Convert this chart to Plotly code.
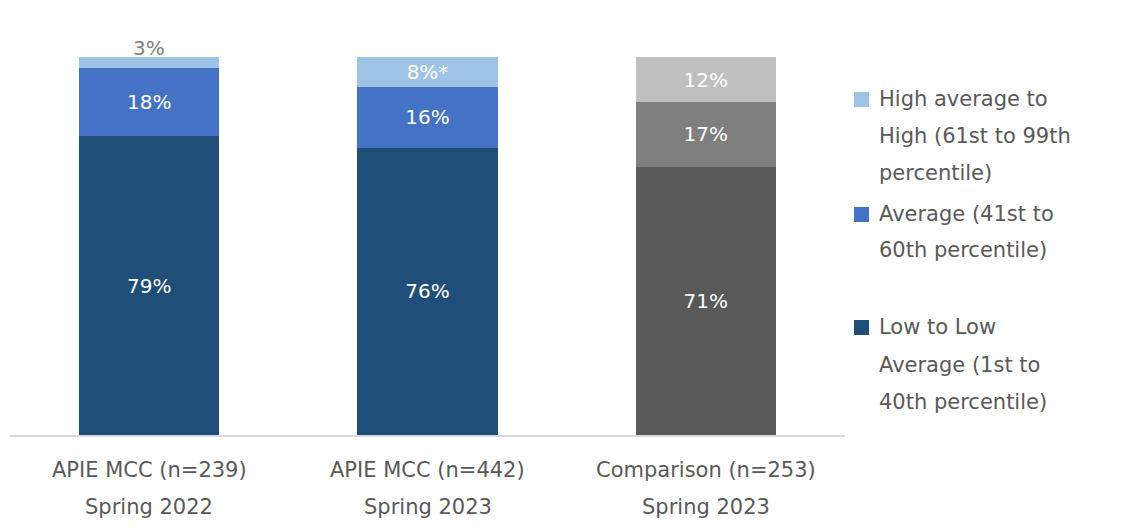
import plotly.graph_objects as go

# Score bands, bottom to top, as percent of students in each group
categories = ["APIE MCC (n=239)<br>Spring 2022",
              "APIE MCC (n=442)<br>Spring 2023",
              "Comparison (n=253)<br>Spring 2023"]
cat_line1 = ["APIE MCC (n=239)", "APIE MCC (n=442)", "Comparison (n=253)"]
cat_line2 = ["Spring 2022", "Spring 2023", "Spring 2023"]

low_to_low_avg = [79, 76, 71]
average = [18, 16, 17]
high_avg_to_high = [3, 8, 12]
high_notes = ["", "*", ""]

series_names = [
    ["Low to Low", "Average (1st to", "40th percentile)"],
    ["Average (41st to", "60th percentile)"],
    ["High average to", "High (61st to 99th", "percentile)"],
]

low_colors = ["#1F4E79", "#1F4E79", "#595959"]
avg_colors = ["#4472C4", "#4472C4", "#7F7F7F"]
high_colors = ["#9DC3E6", "#9DC3E6", "#BFBFBF"]

FONT = "DejaVu Sans"
TEXT_GREY = "#595959"

W, H = 1128, 529
L, R, T, B = 10, 283, 57, 94
PW, PH = W - L - R, H - T - B


def px_x(x):
    return (x - L) / PW


def px_y(y):
    return (H - B - y) / PH


fig = go.Figure()

label_font = dict(family=FONT, size=20, color="white")

fig.add_trace(go.Bar(
    x=categories, y=low_to_low_avg, marker_color=low_colors, marker_line_width=0,
    text=[f"{v}%" for v in low_to_low_avg],
    textposition="inside", insidetextanchor="middle", textangle=0,
    textfont=label_font, constraintext="none", hoverinfo="skip",
))
fig.add_trace(go.Bar(
    x=categories, y=average, marker_color=avg_colors, marker_line_width=0,
    text=[f"{v}%" for v in average],
    textposition="inside", insidetextanchor="middle", textangle=0,
    textfont=label_font, constraintext="none", hoverinfo="skip",
))
# the thinnest top segment gets its label above the bar instead
high_text = [f"{v}%{n}" if v >= 5 else "" for v, n in zip(high_avg_to_high, high_notes)]
fig.add_trace(go.Bar(
    x=categories, y=high_avg_to_high, marker_color=high_colors, marker_line_width=0,
    text=high_text,
    textposition="inside", insidetextanchor="middle", textangle=0,
    textfont=label_font, constraintext="none", hoverinfo="skip",
))

annotations = []
for c, lo, av, hi, n in zip(categories, low_to_low_avg, average, high_avg_to_high, high_notes):
    if hi < 5:
        annotations.append(dict(
            x=c, y=lo + av + hi, xref="x", yref="y", text=f"{hi}%{n}",
            showarrow=False, yanchor="bottom", yshift=-5,
            font=dict(family=FONT, size=20, color="#7F7F7F"),
        ))

# two-line category labels under the axis
for c, l1, l2 in zip(categories, cat_line1, cat_line2):
    annotations.append(dict(x=c, y=px_y(470), xref="x", yref="paper", text=l1,
                            showarrow=False, yanchor="middle",
                            font=dict(family=FONT, size=21, color=TEXT_GREY)))
    annotations.append(dict(x=c, y=px_y(507), xref="x", yref="paper", text=l2,
                            showarrow=False, yanchor="middle",
                            font=dict(family=FONT, size=21, color=TEXT_GREY)))

# legend, top entry first
legend_entries = [
    (series_names[2], high_colors[0], [99, 136, 173]),
    (series_names[1], avg_colors[0], [214, 250]),
    (series_names[0], low_colors[0], [327, 365, 402]),
]
shapes = []
for lines, color, ys in legend_entries:
    y0 = ys[0]
    shapes.append(dict(type="rect", xref="paper", yref="paper",
                       x0=px_x(854), x1=px_x(869), y0=px_y(y0 - 7), y1=px_y(y0 + 8),
                       fillcolor=color, line_width=0))
    for text, y in zip(lines, ys):
        annotations.append(dict(x=px_x(877), y=px_y(y), xref="paper", yref="paper",
                                text=text, showarrow=False, xanchor="left", yanchor="middle",
                                font=dict(family=FONT, size=21, color=TEXT_GREY)))

fig.update_layout(
    barmode="stack", bargap=0.496,
    width=W, height=H,
    margin=dict(l=L, r=R, t=T, b=B),
    paper_bgcolor="white", plot_bgcolor="white",
    showlegend=False,
    annotations=annotations, shapes=shapes,
    font=dict(family=FONT, color=TEXT_GREY),
)
fig.update_xaxes(showticklabels=False, showline=True, linecolor="#D9D9D9",
                 linewidth=2, ticks="", showgrid=False, zeroline=False)
fig.update_yaxes(range=[0, 100], visible=False, showgrid=False, zeroline=False)

fig.write_html("out.html")
